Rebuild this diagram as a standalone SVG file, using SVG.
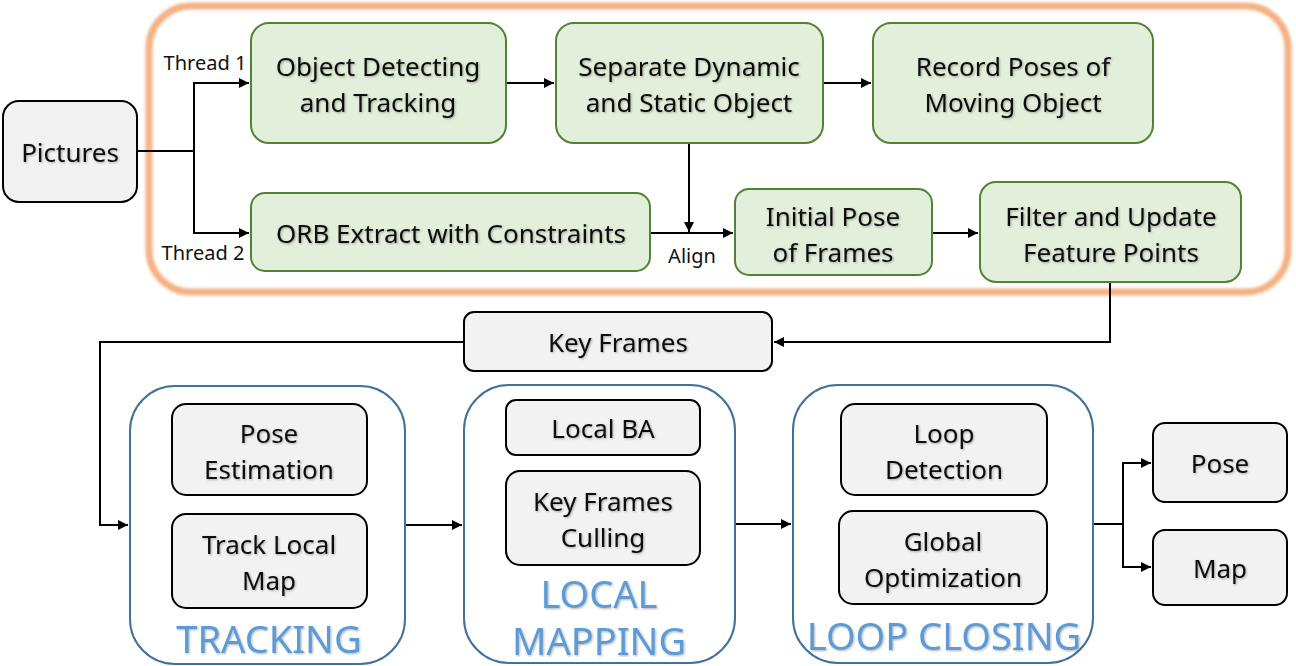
<svg xmlns="http://www.w3.org/2000/svg" width="1296" height="666" viewBox="0 0 1296 666">
<style>
.g{fill:#E2EFDA;stroke:#548235;stroke-width:2}
.w{fill:#F2F2F2;stroke:#000;stroke-width:2}
.c{fill:#fff;stroke:#41719C;stroke-width:2}
.t{font-family:"Noto Sans","Open Sans",sans-serif;font-size:26px;fill:#111;text-anchor:middle;filter:url(#sh)}
.s{font-family:"Noto Sans","Open Sans",sans-serif;font-size:20px;fill:#111;text-anchor:middle}
.b{font-family:"Noto Sans","Open Sans",sans-serif;font-size:38px;fill:#5B9BD5;text-anchor:middle;filter:url(#sh)}
.ln{fill:none;stroke:#000;stroke-width:2}
</style>
<defs>
<marker id="a" viewBox="0 0 10 10" refX="10" refY="5" markerWidth="5" markerHeight="5" orient="auto"><path d="M0,0L10,5L0,10z" fill="#000"/></marker>
<filter id="sh" x="-10%" y="-20%" width="120%" height="140%"><feDropShadow dx="1" dy="1" stdDeviation="0.8" flood-color="#000" flood-opacity="0.3"/></filter>
<filter id="glow" x="-5%" y="-5%" width="110%" height="110%"><feGaussianBlur stdDeviation="1.5"/></filter>
</defs>
<rect width="1296" height="666" fill="#fff"/>
<rect id="frame" x="149" y="6" width="1139" height="286" rx="42" fill="none" stroke="#F4B183" stroke-width="7" filter="url(#glow)"/>
<g id="connectors">
<path class="ln" d="M137,151H194V83H249" marker-end="url(#a)"/>
<path class="ln" d="M194,151V233H249" marker-end="url(#a)"/>
<path class="ln" d="M506,83H554" marker-end="url(#a)"/>
<path class="ln" d="M823,83H871" marker-end="url(#a)"/>
<path class="ln" d="M689,143V232" marker-end="url(#a)"/>
<path class="ln" d="M650,233H733" marker-end="url(#a)"/>
<path class="ln" d="M932,233H978" marker-end="url(#a)"/>
<path class="ln" d="M1110,282V342H774" marker-end="url(#a)"/>
<path class="ln" d="M464,342H100V525H128" marker-end="url(#a)"/>
<path class="ln" d="M405,525H462" marker-end="url(#a)"/>
<path class="ln" d="M735,524H791" marker-end="url(#a)"/>
<path class="ln" d="M1093,524H1123V463H1151" marker-end="url(#a)"/>
<path class="ln" d="M1123,524V567H1151" marker-end="url(#a)"/>
<text class="s" x="205" y="70">Thread 1</text>
<text class="s" x="203" y="260">Thread 2</text>
<text class="s" x="692" y="263">Align</text>
</g>
<g id="pictures"><rect class="w" x="3" y="101" width="134" height="101" rx="16"/><text class="t" x="70" y="162">Pictures</text></g>
<g id="objdet"><rect class="g" x="251" y="23" width="255" height="120" rx="18"/><text class="t" x="378" y="76">Object Detecting</text><text class="t" x="378" y="112">and Tracking</text></g>
<g id="separate"><rect class="g" x="556" y="23" width="267" height="120" rx="18"/><text class="t" x="689" y="76">Separate Dynamic</text><text class="t" x="689" y="112">and Static Object</text></g>
<g id="record"><rect class="g" x="873" y="23" width="280" height="120" rx="18"/><text class="t" x="1013" y="76">Record Poses of</text><text class="t" x="1013" y="112">Moving Object</text></g>
<g id="orb"><rect class="g" x="251" y="193" width="399" height="78" rx="14"/><text class="t" x="451" y="243">ORB Extract with Constraints</text></g>
<g id="initial"><rect class="g" x="735" y="189" width="197" height="86" rx="14"/><text class="t" x="833" y="226">Initial Pose</text><text class="t" x="833" y="262">of Frames</text></g>
<g id="filter"><rect class="g" x="980" y="182" width="261" height="100" rx="16"/><text class="t" x="1111" y="226">Filter and Update</text><text class="t" x="1111" y="262">Feature Points</text></g>
<g id="keyframes"><rect class="w" x="464" y="312" width="308" height="59" rx="10"/><text class="t" x="618" y="352">Key Frames</text></g>
<g id="tracking"><rect class="c" x="130" y="386" width="275" height="278" rx="45"/>
<rect class="w" x="172" y="404" width="195" height="91" rx="14"/><text class="t" x="269" y="443">Pose</text><text class="t" x="269" y="479">Estimation</text>
<rect class="w" x="172" y="514" width="195" height="94" rx="14"/><text class="t" x="269" y="554">Track Local</text><text class="t" x="269" y="590">Map</text>
<text class="b" x="269" y="653">TRACKING</text></g>
<g id="localmapping"><rect class="c" x="464" y="385" width="271" height="278" rx="45"/>
<rect class="w" x="506" y="400" width="194" height="55" rx="10"/><text class="t" x="603" y="438">Local BA</text>
<rect class="w" x="506" y="471" width="194" height="94" rx="14"/><text class="t" x="603" y="511">Key Frames</text><text class="t" x="603" y="547">Culling</text>
<text class="b" x="599" y="608">LOCAL</text><text class="b" x="599" y="655">MAPPING</text></g>
<g id="loopclosing"><rect class="c" x="793" y="385" width="300" height="278" rx="45"/>
<rect class="w" x="841" y="404" width="206" height="91" rx="14"/><text class="t" x="944" y="443">Loop</text><text class="t" x="944" y="479">Detection</text>
<rect class="w" x="839" y="511" width="208" height="93" rx="14"/><text class="t" x="943" y="551">Global</text><text class="t" x="943" y="587">Optimization</text>
<text class="b" x="944" y="650">LOOP CLOSING</text></g>
<g id="pose"><rect class="w" x="1153" y="423" width="134" height="79" rx="12"/><text class="t" x="1220" y="473">Pose</text></g>
<g id="map"><rect class="w" x="1153" y="530" width="134" height="75" rx="12"/><text class="t" x="1220" y="578">Map</text></g>
</svg>
